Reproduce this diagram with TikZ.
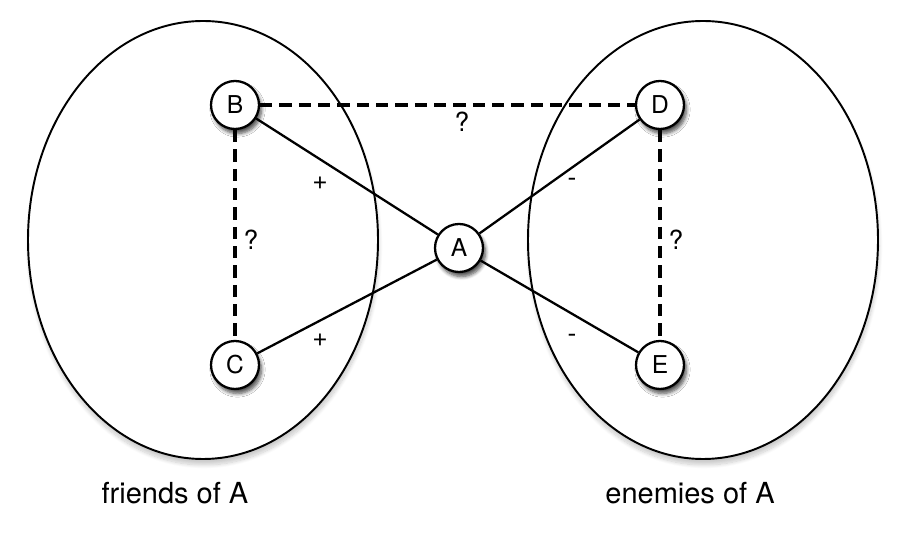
\documentclass[tikz,border=0pt]{standalone}
\usepackage{fontspec}
\setmainfont{TeX Gyre Heros}
\usetikzlibrary{shadows.blur}
\tikzset{
	person/.style={circle, draw, line width=1.3pt, fill=white, inner sep=0pt, minimum size=0.96cm, font=\fontsize{14}{14}\selectfont,
		blur shadow={shadow xshift=0.05cm, shadow yshift=-0.09cm, shadow blur steps=6, shadow opacity=70}},
	group/.style={draw, line width=1.1pt, fill=white,
		blur shadow={shadow xshift=0.02cm, shadow yshift=-0.12cm, shadow blur steps=10, shadow opacity=20}},
	tie/.style={line width=1.3pt},
	unknown/.style={line width=1.8pt, dash pattern=on 7pt off 4pt},
	sign/.style={font=\fontsize{15}{15}\selectfont},
	caption/.style={font=\fontsize{16.5}{16.5}\selectfont}
}
\begin{document}
\begin{tikzpicture}
		\useasboundingbox (0, 0) rectangle (18.12, -10.72);
		%%%%% START %%%%%
		
		\draw[group] (4.06, -4.80) ellipse (3.50 and 4.38);
		\draw[group] (14.06, -4.80) ellipse (3.50 and 4.38);
		
		\node[person] (B) at (4.70, -2.10) {B};
		\node[person] (C) at (4.70, -7.30) {C};
		\node[person] (A) at (9.18, -4.96) {A};
		\node[person] (D) at (13.20, -2.10) {D};
		\node[person] (E) at (13.20, -7.30) {E};
		
		\draw[tie] (B) -- (A);
		\draw[tie] (C) -- (A);
		\draw[tie] (D) -- (A);
		\draw[tie] (E) -- (A);
		\draw[unknown] (B) -- (D);
		\draw[unknown] (B) -- (C);
		\draw[unknown] (D) -- (E);
		
		\node[sign] (qBD) at (9.24, -2.44) {?};
		\node[sign] (qBC) at (5.02, -4.80) {?};
		\node[sign] (qDE) at (13.52, -4.80) {?};
		\node[sign] (pB) at (6.40, -3.66) {+};
		\node[sign] (pC) at (6.40, -6.80) {+};
		\node[sign] (mD) at (11.44, -3.64) {-};
		\node[sign] (mE) at (11.44, -6.76) {-};
		
		\node[caption] (friends) at (3.50, -9.86) {friends of A};
		\node[caption] (enemies) at (13.80, -9.86) {enemies of A};
		
		%%%%% END %%%%%
	\end{tikzpicture}
\end{document}
